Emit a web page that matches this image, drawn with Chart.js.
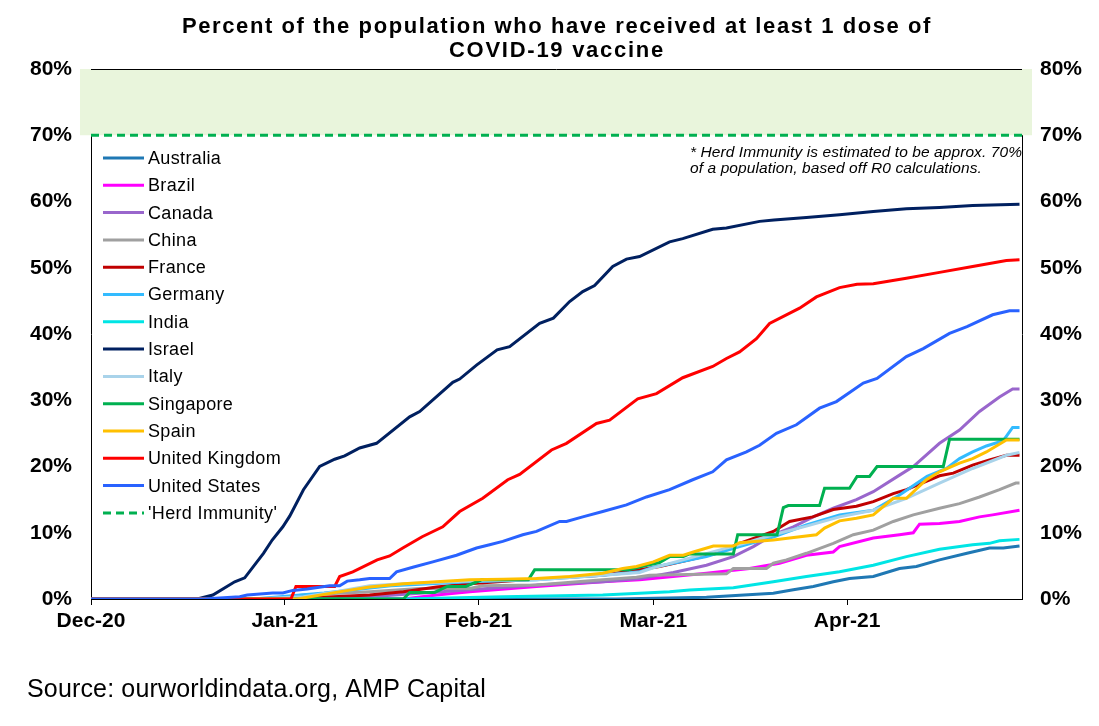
<!DOCTYPE html>
<html>
<head>
<meta charset="utf-8">
<script src="https://cdn.jsdelivr.net/npm/chart.js@4.4.1/dist/chart.umd.min.js"></script>
<style>
  html, body { margin: 0; padding: 0; background: #fff; }
  #wrap { width: 1099px; height: 726px; position: relative; }
</style>
</head>
<body>
<div id="wrap"><canvas id="vaxChart"></canvas></div>
<script>
// x = days since 1 Dec 2020, y = % of population with at least one dose
const monthDays = [0, 31, 62, 90, 121];
const monthLabels = ['Dec-20', 'Jan-21', 'Feb-21', 'Mar-21', 'Apr-21'];
const yTicks = [0, 10, 20, 30, 40, 50, 60, 70, 80];
const herdLevel = 70;

const countries = ['Australia', 'Brazil', 'Canada', 'China', 'France', 'Germany', 'India',
  'Israel', 'Italy', 'Singapore', 'Spain', 'United Kingdom', 'United States'];
const colours = ['#1f78b4', '#ff00ff', '#9966cc', '#a0a0a0', '#c00000', '#33bbff', '#00e5e5',
  '#002060', '#a9d3ea', '#00b050', '#ffc000', '#ff0000', '#2962ff'];

const australia = [[0,0],[84,0],[98.5,0.25],[109.2,0.86],[112.4,1.4],[115.6,1.9],[118.8,2.6],[121.4,3.1],
  [125.2,3.4],[129.4,4.6],[132.1,4.9],[135.8,5.9],[140.2,6.9],[143.8,7.7],[146,7.7],[148.6,8]];
const brazil = [[0,0],[50,0],[55.3,0.6],[60.6,1.1],[71.3,1.9],[81.9,2.6],[87.8,2.9],[98.5,3.9],[105.4,4.6],
  [110.2,5.4],[114.5,6.6],[118.8,7.1],[119.8,7.9],[125.2,9.2],[129.4,9.7],[131.6,10],[132.6,11.3],
  [135.8,11.4],[139,11.7],[142.2,12.4],[144.3,12.7],[148.6,13.4]];
const canada = [[0,0],[30,0],[44.6,0.35],[60.6,1.4],[71.3,2.1],[81.9,2.6],[87.8,3.1],[93.2,4],[98.5,5.1],
  [102.8,6.4],[106,7.9],[109.2,9.7],[112.4,10.9],[115.6,12.4],[118.8,13.7],[122.5,15],[125.2,16.2],
  [129.4,18.7],[131.6,20],[135.8,23.5],[139,25.5],[142.2,28.3],[145.4,30.5],[147.5,31.7],[148.6,31.7]];
const china = [[0,0],[28,0],[34,0.6],[44.6,1.1],[52.6,1.6],[60.6,1.6],[62.7,2],[71.3,2.1],[81.9,2.9],
  [87.3,3.3],[89.4,3.6],[101.7,3.8],[102.8,4.6],[108.1,4.6],[109.2,5.4],[111.3,5.9],[114.5,6.9],
  [118.8,8.4],[122,9.7],[125.2,10.4],[128.4,11.7],[131.6,12.7],[135.8,13.7],[139,14.4],[142.2,15.4],
  [145.4,16.5],[148,17.5],[148.6,17.5]];
const france = [[0,0],[26,0],[33.9,0.1],[44.6,0.6],[50,1.1],[55.3,1.8],[60.6,2.3],[71.3,3],[81.9,3.6],
  [87.8,4.4],[91,4.9],[95.8,5.9],[100.1,6.9],[103.8,8.4],[109.2,10.2],[111.8,11.7],[115.5,12.4],
  [118.8,13.5],[122.5,14],[125.2,14.7],[128.4,15.9],[130.5,16.5],[135.8,18.6],[138,19],[141.1,20.2],
  [143.8,21],[146.5,21.7],[148.6,21.7]];
const germany = [[0,0],[26,0],[37.3,0.9],[48,2],[60.6,2.6],[71.3,2.9],[81.9,3.6],[87.8,4.1],[90,4.8],
  [98.5,6.4],[103.8,7.9],[109.3,9.4],[114.5,11.2],[119.8,12.7],[125.2,13.4],[129.4,15.7],[133.8,18.5],
  [136.9,19.7],[139,21.2],[141.1,22.2],[143.3,23.1],[146,23.9],[147.5,25.9],[148.6,25.9]];
const india = [[0,0],[50,0],[66,0.35],[81.9,0.6],[87.8,0.86],[92.6,1.1],[95.8,1.36],[102.8,1.7],
  [109.2,2.6],[114.5,3.4],[119.8,4.1],[125.2,5.1],[130.5,6.4],[135.8,7.5],[141.1,8.2],[143.8,8.4],
  [145.4,8.8],[148.6,9]];
const israel = [[0,0],[17,0],[19.5,0.6],[23,2.6],[24.6,3.2],[27.6,6.9],[29,8.9],[30.7,10.9],[31.8,12.5],
  [34,16.5],[36.6,20],[39,21.1],[40.6,21.6],[43,22.8],[45.7,23.5],[51,27.5],[52.6,28.3],[57.9,32.7],
  [59,33.2],[61.7,35.3],[65,37.6],[67,38.1],[71.8,41.6],[74,42.4],[76.6,44.9],[78.7,46.4],[80.6,47.3],
  [83.5,50.2],[85.7,51.3],[87.8,51.7],[92.6,53.9],[94.7,54.4],[99.5,55.8],[101.7,56],[107,57],
  [109.3,57.2],[114.5,57.6],[119.8,58],[125.2,58.5],[130.5,58.9],[135.8,59.1],[141.1,59.4],[148.6,59.6]];
const italy = [[0,0],[26,0],[34,0.35],[39.2,1.1],[44.6,2],[50,2.3],[60.6,2.7],[71.3,2.9],[81.9,3.6],
  [87.8,4],[90,4.7],[103.8,8.2],[109.2,9.7],[114.5,11],[119.8,12.4],[125.2,13.4],[130.5,15.2],
  [135.8,17.5],[141.1,19.7],[146.5,21.7],[148.6,22.1]];
const singapore = [[0,0],[50,0],[51,1],[55,1],[57,1.9],[60,1.9],[62.5,2.9],[70,2.9],[71,4.4],[86,4.4],
  [89,5.1],[91,5.5],[92.6,6.4],[94.8,6.4],[95.8,6.8],[102.8,6.8],[103.5,9.7],[109.8,9.7],[110.8,13.8],
  [111.6,14.1],[116.6,14.1],[117.4,16.7],[121.4,16.7],[122.6,18.5],[124.6,18.5],[125.8,20],[136.4,20],
  [137.4,24.1],[148.6,24.1]];
const spain = [[0,0],[33,0],[39.2,1],[44.6,1.8],[50,2.3],[55.3,2.6],[60.6,2.9],[66,3],[71.3,3.1],
  [76.6,3.4],[81.9,3.9],[85.1,4.6],[87.3,4.9],[90,5.6],[92.6,6.6],[94.8,6.6],[96.4,7.1],[99.6,8],
  [102.8,8],[103.8,8.5],[109.2,8.9],[111.8,9.2],[116.1,9.7],[117.4,10.7],[119.8,11.8],[122.5,12.2],
  [125.2,12.7],[128.4,15.2],[130.5,15.2],[133.7,18],[135.8,19.2],[139,20.5],[141.1,21.2],[143.3,22.2],
  [146.5,24],[148.6,24]];
const unitedKingdom = [[0,0],[32,0],[32.8,1.9],[39,1.9],[39.8,3.4],[41.9,4.1],[45.8,5.9],[47.8,6.5],
  [49.9,7.7],[53,9.4],[56.3,10.9],[59,13.2],[62.7,15.2],[66.7,18],[68.6,18.8],[73.7,22.5],[76.1,23.5],
  [80.9,26.5],[83,27],[87.5,30.2],[90.5,31],[94.7,33.4],[99.5,35.1],[101.7,36.3],[103.8,37.3],
  [106.5,39.3],[108.6,41.6],[113.4,43.9],[116.1,45.6],[119.8,47],[122.6,47.5],[125.2,47.6],
  [130.5,48.4],[135.8,49.3],[141.1,50.2],[146.5,51.1],[148.6,51.2]];
const unitedStates = [[0,0],[18,0],[23.8,0.35],[25,0.6],[29.1,0.9],[30.7,0.9],[32.3,1.3],[34.6,1.5],
  [38.2,2],[39.8,2],[41,2.7],[43,2.9],[44.6,3.1],[47.8,3.1],[48.9,4.1],[51.5,4.8],[54.7,5.6],[58.5,6.6],
  [61.7,7.7],[63.8,8.2],[65.9,8.7],[69.1,9.7],[71.3,10.2],[75,11.7],[76.1,11.7],[78.7,12.4],[81.9,13.2],
  [85.7,14.2],[88.9,15.4],[92.6,16.5],[96.3,18],[99.5,19.2],[101.7,21],[104.9,22.2],[107,23.2],
  [109.7,25],[112.9,26.3],[116.6,28.8],[119.3,29.8],[123.6,32.6],[125.8,33.3],[130.5,36.6],
  [133.2,37.8],[137.4,40.1],[140.2,41.1],[144.3,42.9],[147,43.5],[148.6,43.5]];

const seriesData = [australia, brazil, canada, china, france, germany, india,
  israel, italy, singapore, spain, unitedKingdom, unitedStates];

const toPoints = arr => arr.map(p => ({ x: p[0], y: p[1] }));

const datasets = countries.map((name, i) => ({
  label: name,
  data: toPoints(seriesData[i]),
  borderColor: colours[i],
  borderWidth: 3,
  pointRadius: 0,
  tension: 0,
  order: -i
}));
datasets.push({
  label: "'Herd Immunity'",
  data: [{ x: 0, y: herdLevel }, { x: 149, y: herdLevel }],
  borderColor: '#00b050',
  borderWidth: 3,
  borderDash: [8, 5],
  pointRadius: 0,
  order: -100
});

// draw text with letter spacing so it fills a given width
function fitText(ctx, text, x, y, width, align) {
  ctx.letterSpacing = '0px';
  const w = ctx.measureText(text).width;
  const sp = Math.max(0, (width - w) / text.length);
  ctx.letterSpacing = sp + 'px';
  if (align === 'center') x = x - width / 2;
  ctx.textAlign = 'left';
  ctx.fillText(text, x, y);
  ctx.letterSpacing = '0px';
}

const decorations = {
  id: 'decorations',
  beforeDatasetsDraw(chart) {
    const { ctx, chartArea, scales } = chart;
    const yTop = scales.y.getPixelForValue(80);
    const yHerd = scales.y.getPixelForValue(herdLevel);
    ctx.save();
    ctx.fillStyle = '#e9f5dc';
    ctx.fillRect(chartArea.left - 11, yTop, chartArea.width + 21, yHerd - yTop);
    ctx.restore();
  },
  afterDraw(chart) {
    const { ctx, chartArea } = chart;
    ctx.save();
    // top border of the plot
    ctx.strokeStyle = '#000';
    ctx.lineWidth = 1;
    ctx.beginPath();
    ctx.moveTo(chartArea.left, chartArea.top + 0.5);
    ctx.lineTo(chartArea.right, chartArea.top + 0.5);
    ctx.stroke();

    ctx.fillStyle = '#000';
    ctx.textBaseline = 'alphabetic';
    ctx.font = 'bold 22px "Liberation Sans", Arial, sans-serif';
    fitText(ctx, 'Percent of the population who have received at least 1 dose of', 557, 33, 750, 'center');
    fitText(ctx, 'COVID-19 vaccine', 557, 57, 216, 'center');

    ctx.font = '25px "Liberation Sans", Arial, sans-serif';
    fitText(ctx, 'Source: ourworldindata.org, AMP Capital', 27, 697, 459);

    ctx.font = 'italic 15.5px "Liberation Sans", Arial, sans-serif';
    fitText(ctx, '* Herd Immunity is estimated to be approx. 70%', 690, 157, 332);
    fitText(ctx, 'of a population, based off R0 calculations.', 690, 173, 292);

    // legend
    ctx.font = '18px "Liberation Sans", Arial, sans-serif';
    ctx.letterSpacing = '0px';
    const ukW = ctx.measureText('United Kingdom').width;
    const sp = Math.max(0, (133 - ukW) / 14);
    const items = chart.data.datasets;
    items.forEach((ds, i) => {
      const y = 158 + i * 27.3;
      ctx.strokeStyle = ds.borderColor;
      ctx.lineWidth = 3;
      ctx.setLineDash(ds.borderDash || []);
      ctx.beginPath();
      ctx.moveTo(103, y);
      ctx.lineTo(144, y);
      ctx.stroke();
      ctx.setLineDash([]);
      ctx.fillStyle = '#000';
      ctx.textBaseline = 'middle';
      ctx.letterSpacing = sp + 'px';
      ctx.fillText(ds.label, 148, y + 1);
    });
    ctx.restore();
  }
};

const tickFont = { family: '"Liberation Sans", Arial, sans-serif', size: 21, weight: 'bold' };

new Chart(document.getElementById('vaxChart'), {
  type: 'line',
  data: { datasets },
  options: {
    responsive: true,
    maintainAspectRatio: false,
    animation: false,
    layout: { padding: { top: 69, right: 0, bottom: 0, left: 0 } },
    plugins: { legend: { display: false }, title: { display: false }, tooltip: { enabled: false } },
    scales: {
      x: {
        type: 'linear',
        min: 0,
        max: 149,
        afterBuildTicks: axis => { axis.ticks = monthDays.map(v => ({ value: v })); },
        afterFit: scale => { scale.height = 127; },
        ticks: {
          autoSkip: false,
          maxRotation: 0,
          padding: 4,
          color: '#000',
          font: tickFont,
          callback: v => monthLabels[monthDays.indexOf(v)]
        },
        grid: { display: true, drawOnChartArea: false, drawTicks: true, tickLength: 6, color: '#000' },
        border: { display: true, color: '#000', width: 1 }
      },
      y: {
        position: 'left',
        min: 0,
        max: 80,
        afterBuildTicks: axis => { axis.ticks = yTicks.map(v => ({ value: v })); },
        afterFit: scale => { scale.width = 91; },
        ticks: { padding: 19, color: '#000', font: tickFont, callback: v => v + '%' },
        grid: { display: false, drawTicks: false },
        border: { display: true, color: '#000', width: 1 }
      },
      y2: {
        position: 'right',
        min: 0,
        max: 80,
        afterBuildTicks: axis => { axis.ticks = yTicks.map(v => ({ value: v })); },
        afterFit: scale => { scale.width = 77; },
        ticks: { padding: 18, color: '#000', font: tickFont, callback: v => v + '%' },
        grid: { display: false, drawTicks: false },
        border: { display: true, color: '#000', width: 1 }
      }
    }
  },
  plugins: [decorations]
});
</script>
</body>
</html>
